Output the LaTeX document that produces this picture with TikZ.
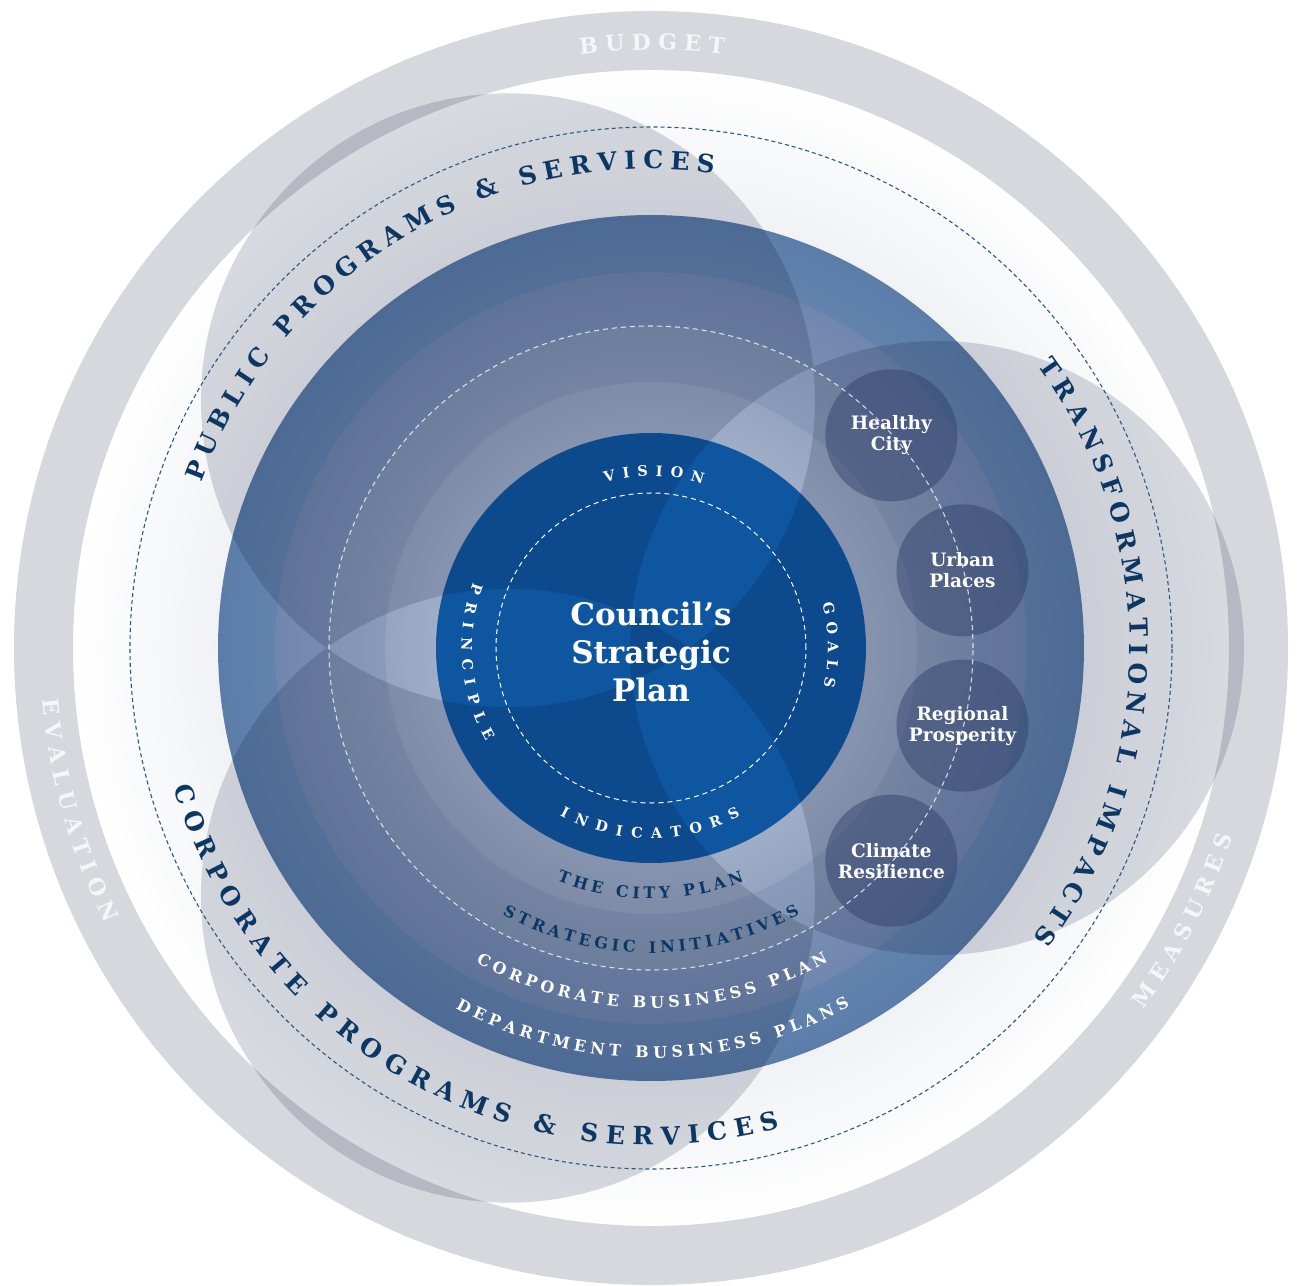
\documentclass[tikz,border=0pt]{standalone}
\usepackage{fontspec}
\setmainfont{DejaVu Serif}
\usepackage{tikz}
\usetikzlibrary{decorations.text}

\definecolor{ringgray}{HTML}{D7D8DE}
\definecolor{petalgray}{HTML}{D8DAE0}
\definecolor{ringtext}{HTML}{F6F6F8}
\definecolor{navytext}{HTML}{0C3764}
\definecolor{dashnavy}{HTML}{2B5687}
\definecolor{planblue}{HTML}{0F56A1}
\definecolor{goalslate}{HTML}{2C3D68}
\definecolor{glowin}{HTML}{F1F2F5}
\definecolor{ringtwoout}{HTML}{5C7DAA}
\definecolor{ringtwoin}{HTML}{6383AE}
\definecolor{ringthreeout}{HTML}{7187AF}
\definecolor{ringthreein}{HTML}{788DB3}
\definecolor{ringfourout}{HTML}{8294B3}
\definecolor{ringfourin}{HTML}{899BB9}
\definecolor{ringfiveout}{HTML}{95A4C0}
\definecolor{ringfivein}{HTML}{9FADC7}

% the path box is matched to the middle 50bp of a shading
\pgfdeclareradialshading{glowshade}{\pgfpoint{0bp}{0bp}}{color(0bp)=(glowin); color(18.7bp)=(glowin); color(25bp)=(white); color(50bp)=(white)}
\pgfdeclareradialshading{ringtwo}{\pgfpoint{0bp}{0bp}}{color(0bp)=(ringtwoin); color(21.7bp)=(ringtwoin); color(25bp)=(ringtwoout); color(50bp)=(ringtwoout)}
\pgfdeclareradialshading{ringthree}{\pgfpoint{0bp}{0bp}}{color(0bp)=(ringthreein); color(21.4bp)=(ringthreein); color(25bp)=(ringthreeout); color(50bp)=(ringthreeout)}
\pgfdeclareradialshading{ringfour}{\pgfpoint{0bp}{0bp}}{color(0bp)=(ringfourin); color(20.65bp)=(ringfourin); color(25bp)=(ringfourout); color(50bp)=(ringfourout)}
\pgfdeclareradialshading{ringfive}{\pgfpoint{0bp}{0bp}}{color(0bp)=(ringfivein); color(20.2bp)=(ringfivein); color(25bp)=(ringfiveout); color(50bp)=(ringfiveout)}

\newcommand{\ringfont}{\bfseries\fontsize{22}{26}\selectfont}
\newcommand{\bandfont}{\bfseries\fontsize{25}{30}\selectfont}
\newcommand{\corefont}{\bfseries\fontsize{14.5}{18}\selectfont}
\newcommand{\layerfont}{\bfseries\fontsize{16}{20}\selectfont}

% #1 colour, #2 font, #3 radius, #4 start, #5 end, #6 text
\newcommand{\arclabel}[6]{%
  \path[decorate,decoration={text along path,text align=fit to path,
    text color=#1,text={|#2|#6}}]
    (#4:#3) arc[start angle=#4,end angle=#5,radius=#3];}

\tikzset{
  goal/.style={circle,minimum size=132pt,inner sep=0pt,fill=goalslate,
    fill opacity=0.45,text opacity=1,text=white,align=center,
    font=\bfseries\fontsize{18.5}{21}\selectfont},
  plantitle/.style={text=white,align=center,
    font=\bfseries\fontsize{31}{38}\selectfont},
}

\begin{document}
\begin{tikzpicture}[x=1pt,y=1pt]
  \useasboundingbox (-651,-637) rectangle (647,648);
  \fill[white] (-651,-637) rectangle (647,648);
  \shade[shading=glowshade] (0,0) circle[radius=578];

  % budget / evaluation / measures ring
  \fill[ringgray,even odd rule] (0,0) circle[radius=637] (0,0) circle[radius=578];

  % plan layers
  \shade[shading=ringtwo] (0,0) circle[radius=433];
  \shade[shading=ringthree] (0,0) circle[radius=376];
  \shade[shading=ringfour] (0,0) circle[radius=322];
  \shade[shading=ringfive] (0,0) circle[radius=266];
  \fill[planblue] (0,0) circle[radius=215];

  % programs, services and impacts
  \begin{scope}[blend mode=multiply]
    \fill[petalgray,even odd rule] (120:286) circle[radius=307]
      (240:286) circle[radius=307] (0:286) circle[radius=307];
  \end{scope}

  \node[goal] (healthy) at (41.5:321) {Healthy\\City};
  \node[goal] (urban) at (14:321) {Urban\\Places};
  \node[goal] (regional) at (-14:321) {Regional\\Prosperity};
  \node[goal] (climate) at (-41.5:321) {Climate\\Resilience};

  \draw[dashnavy,line width=1.1pt,dash pattern=on 4pt off 3pt] (0,0) circle[radius=521];
  \draw[white,opacity=0.75,line width=1.1pt,dash pattern=on 5pt off 4pt] (0,0) circle[radius=322];
  \draw[white,line width=1pt,dash pattern=on 5pt off 4pt] (0,0) circle[radius=155];

  \node[plantitle] (plan) at (0,-4) {Council’s\\Strategic\\Plan};

  \arclabel{ringtext}{\ringfont}{598}{96.8}{83}{BUDGET}
  \arclabel{ringtext}{\ringfont}{611}{184.8}{206.8}{EVALUATION}
  \arclabel{ringtext}{\ringfont}{611}{-36.3}{-18}{MEASURES}

  \arclabel{navytext}{\bandfont}{479}{159.8}{82.5}{PUBLIC PROGRAMS {\&} SERVICES}
  \arclabel{navytext}{\bandfont}{479}{36.2}{-37.2}{TRANSFORMATIONAL IMPACTS}
  \arclabel{navytext}{\bandfont}{497}{196.3}{285}{CORPORATE PROGRAMS {\&} SERVICES}

  \arclabel{white}{\corefont}{172}{105.5}{72.5}{VISION}
  \arclabel{white}{\corefont}{177}{14.7}{-12.8}{GOALS}
  \arclabel{white}{\corefont}{189.5}{159.8}{209.5}{PRINCIPLE}
  \arclabel{white}{\corefont}{190.5}{241.3}{298}{INDICATORS}

  \arclabel{navytext}{\layerfont}{251}{248}{291.8}{THE CITY PLAN}
  \arclabel{navytext}{\layerfont}{305}{240.8}{299.2}{STRATEGIC INITIATIVES}
  \arclabel{white}{\layerfont}{360}{240.9}{299.5}{CORPORATE BUSINESS PLAN}
  \arclabel{white}{\layerfont}{410}{241.5}{299}{DEPARTMENT BUSINESS PLANS}
\end{tikzpicture}
\end{document}
